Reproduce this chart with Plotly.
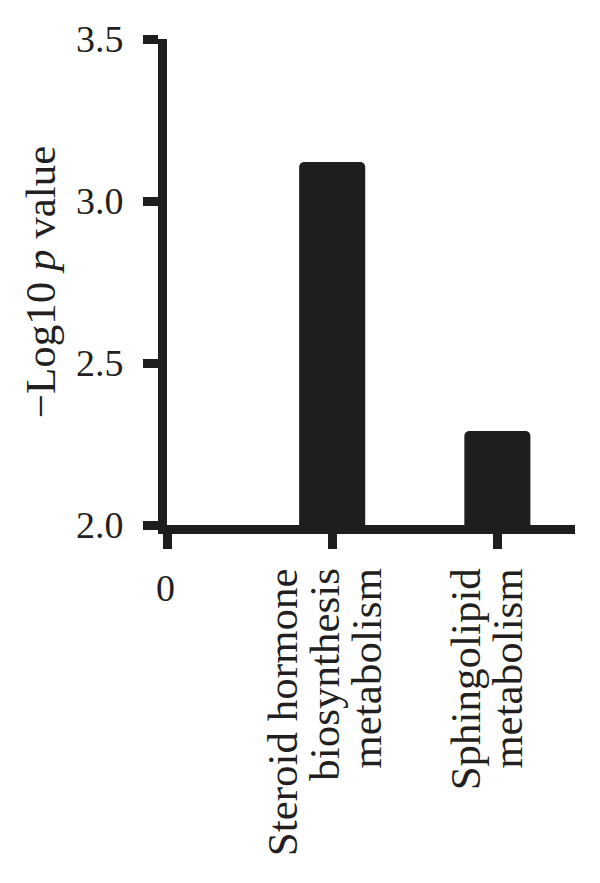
import plotly.graph_objects as go

categories = ["0", "Steroid hormone biosynthesis metabolism", "Sphingolipid metabolism"]
label_lines = [["0"], ["Steroid hormone", "biosynthesis", "metabolism"], ["Sphingolipid", "metabolism"]]
positions = [0, 1, 2]
values = [None, 3.12, 2.29]
y_ticks = [2.0, 2.5, 3.0, 3.5]
y_tick_labels = ["2.0", "2.5", "3.0", "3.5"]

INK = "#1e1e1e"
TEXT = "#231f20"
FONT = "Liberation Serif"

fig = go.Figure(
    go.Bar(
        x=positions,
        y=values,
        width=0.40,
        marker=dict(color=INK, line=dict(width=0), cornerradius=5),
        showlegend=False,
    )
)

annotations = []
# "0" label (horizontal)
annotations.append(dict(
    x=positions[0], y=0, xref="x", yref="paper",
    text=label_lines[0][0], showarrow=False,
    xanchor="center", yanchor="top", xshift=-2, yshift=-40,
    font=dict(size=38, family=FONT, color=TEXT),
))
# rotated multi-line category labels, one column per line
col_gap = 42
group_shift = {1: -8, 2: -11}
for pos, lines in zip(positions[1:], label_lines[1:]):
    n = len(lines)
    for i, line in enumerate(lines):
        annotations.append(dict(
            x=pos, y=0, xref="x", yref="paper",
            text=line, showarrow=False, textangle=-90,
            xanchor="center", yanchor="top",
            xshift=(i - (n - 1) / 2) * col_gap + group_shift[pos], yshift=-41,
            font=dict(size=43, family=FONT, color=TEXT),
        ))

fig.update_layout(
    width=592,
    height=875,
    margin=dict(l=159, r=25, t=31, b=358),
    paper_bgcolor="white",
    plot_bgcolor="white",
    font=dict(family=FONT, color=TEXT),
    xaxis=dict(
        range=[0, 2.47],
        tickmode="array",
        tickvals=positions,
        ticktext=["" for _ in positions],
        showticklabels=False,
        ticks="outside",
        ticklen=15,
        tickwidth=9,
        tickcolor=INK,
        showline=True,
        linewidth=9,
        linecolor=INK,
        showgrid=False,
        zeroline=False,
        automargin=False,
    ),
    yaxis=dict(
        range=[2.0, 3.5],
        tickmode="array",
        tickvals=y_ticks,
        ticktext=y_tick_labels,
        tickfont=dict(size=38, family=FONT, color=TEXT),
        ticks="outside",
        ticklen=15,
        tickwidth=9,
        tickcolor=INK,
        showline=True,
        linewidth=9,
        linecolor=INK,
        showgrid=False,
        zeroline=False,
        ticklabelstandoff=12,
        automargin=False,
        title=dict(text="\u2212Log10 <i>p</i> value", font=dict(size=43, family=FONT, color=TEXT), standoff=10),
    ),
    annotations=annotations,
)

fig.write_html("out.html")
